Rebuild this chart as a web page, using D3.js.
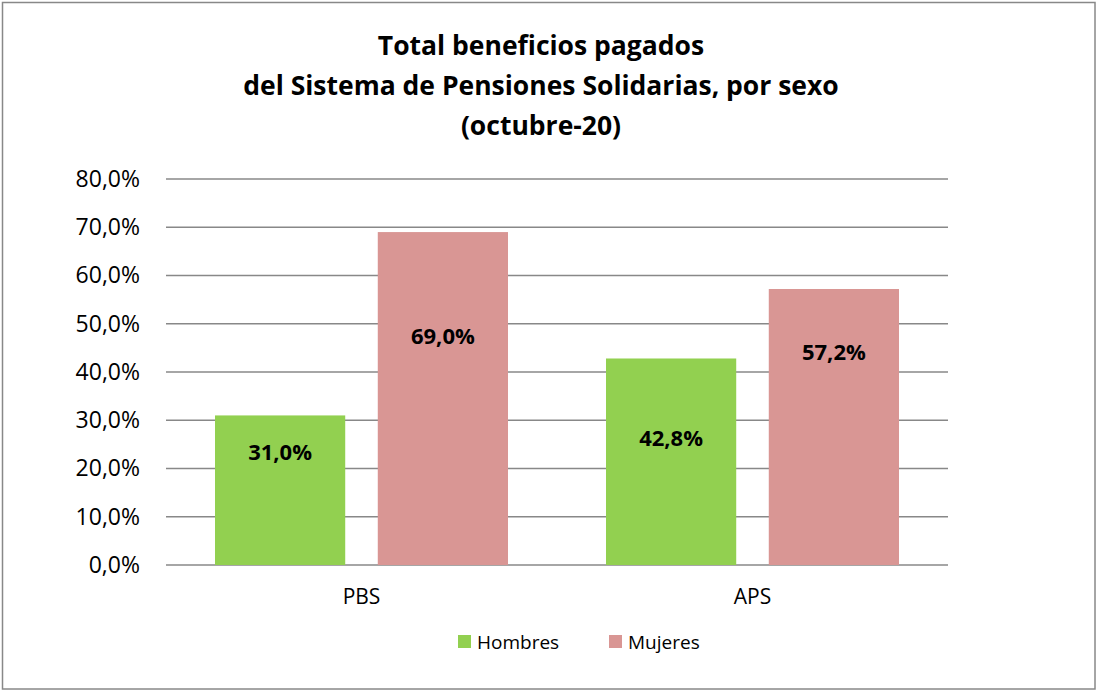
<!doctype html>
<html>
<head>
<meta charset="utf-8">
<script src="https://cdnjs.cloudflare.com/ajax/libs/d3/7.8.5/d3.min.js"></script>
<style>
  body { margin: 0; background: #fff; }
  text { font-family: "Open Sans", "Noto Sans", sans-serif; fill: #000; }
</style>
</head>
<body>
<svg id="chart" width="1097" height="690"></svg>
<script>
// data
var categories = ["PBS", "APS"];
var series = ["Hombres", "Mujeres"];
var hombres = [0.310, 0.428];
var mujeres = [0.690, 0.572];
// where Excel left the data labels (in axis units)
var hombresLabelAt = [0.234, 0.263];
var mujeresLabelAt = [0.473, 0.441];
var yTicks = [0, 0.1, 0.2, 0.3, 0.4, 0.5, 0.6, 0.7, 0.8];
var titleLines = ["Total beneficios pagados", "del Sistema de Pensiones Solidarias, por sexo", "(octubre-20)"];
var colors = { "Hombres": "#92d050", "Mujeres": "#d99694" };

var svg = d3.select("#chart");
var W = +svg.attr("width"), H = +svg.attr("height");

// outer frame
svg.append("rect")
  .attr("x", 2.5).attr("y", 2.5)
  .attr("width", W - 4.5).attr("height", H - 3.5)
  .attr("fill", "#fff").attr("stroke", "#888").attr("stroke-width", 1.5);

// title
svg.append("g").selectAll("text")
  .data(titleLines)
  .enter().append("text")
  .attr("x", 541)
  .attr("y", function(d, i) { return 55 + i * 40; })
  .attr("text-anchor", "middle")
  .style("font-weight", "bold")
  .style("font-size", "26.5px")
  .text(function(d) { return d; });

var plot = { left: 166, right: 948, top: 179, bottom: 565 };

var y = d3.scaleLinear().domain([0, 0.8]).range([plot.bottom, plot.top]);
var x0 = d3.scaleBand().domain(categories).range([plot.left, plot.right]);
var x1 = d3.scaleBand().domain(series)
  .range([49, x0.bandwidth() - 49])
  .paddingInner(0.2);

var fmt = function(v) { return d3.format(".1f")(v * 100).replace(".", ",") + "%"; };

// gridlines
svg.append("g").selectAll("line")
  .data(yTicks)
  .enter().append("line")
  .attr("x1", plot.left).attr("x2", plot.right)
  .attr("y1", function(d) { return y(d); })
  .attr("y2", function(d) { return y(d); })
  .attr("stroke", "#888").attr("stroke-width", 1.5);

// y axis labels
var yAxis = d3.axisLeft(y).tickValues(yTicks).tickFormat(fmt).tickSize(0).tickPadding(26);
var gy = svg.append("g").attr("transform", "translate(" + plot.left + ",0)").call(yAxis);
gy.select(".domain").remove();
gy.selectAll("text").style("font-size", "23px").attr("fill", "#000");

// bars
var rows = categories.map(function(c, i) {
  return { cat: c, vals: [
    { s: "Hombres", v: hombres[i], at: hombresLabelAt[i] },
    { s: "Mujeres", v: mujeres[i], at: mujeresLabelAt[i] }
  ] };
});

var groups = svg.append("g").selectAll("g")
  .data(rows)
  .enter().append("g")
  .attr("transform", function(d) { return "translate(" + x0(d.cat) + ",0)"; });

groups.selectAll("rect")
  .data(function(d) { return d.vals; })
  .enter().append("rect")
  .attr("x", function(d) { return x1(d.s); })
  .attr("width", x1.bandwidth())
  .attr("y", function(d) { return y(d.v); })
  .attr("height", function(d) { return y(0) - y(d.v); })
  .attr("fill", function(d) { return colors[d.s]; });

groups.selectAll("text.lbl")
  .data(function(d) { return d.vals; })
  .enter().append("text")
  .attr("class", "lbl")
  .attr("x", function(d) { return x1(d.s) + x1.bandwidth() / 2; })
  .attr("y", function(d) { return y(d.at); })
  .attr("dy", "0.35em")
  .attr("text-anchor", "middle")
  .style("font-weight", "bold")
  .style("font-size", "22px")
  .text(function(d) { return fmt(d.v); });

// category axis
var xAxis = d3.axisBottom(x0).tickSize(0).tickPadding(24);
var gx = svg.append("g").attr("transform", "translate(0," + plot.bottom + ")").call(xAxis);
gx.select(".domain").remove();
gx.selectAll("text").style("font-size", "21px").attr("fill", "#000");

// legend
var legendX = [458, 609];
var legend = svg.append("g").selectAll("g")
  .data(series)
  .enter().append("g")
  .attr("transform", function(d, i) { return "translate(" + legendX[i] + ",635)"; });
legend.append("rect")
  .attr("width", 13).attr("height", 13)
  .attr("fill", function(d) { return colors[d]; });
legend.append("text")
  .attr("x", 19).attr("y", 7).attr("dy", "0.35em")
  .style("font-size", "19px")
  .text(function(d) { return d; });
</script>
</body>
</html>
